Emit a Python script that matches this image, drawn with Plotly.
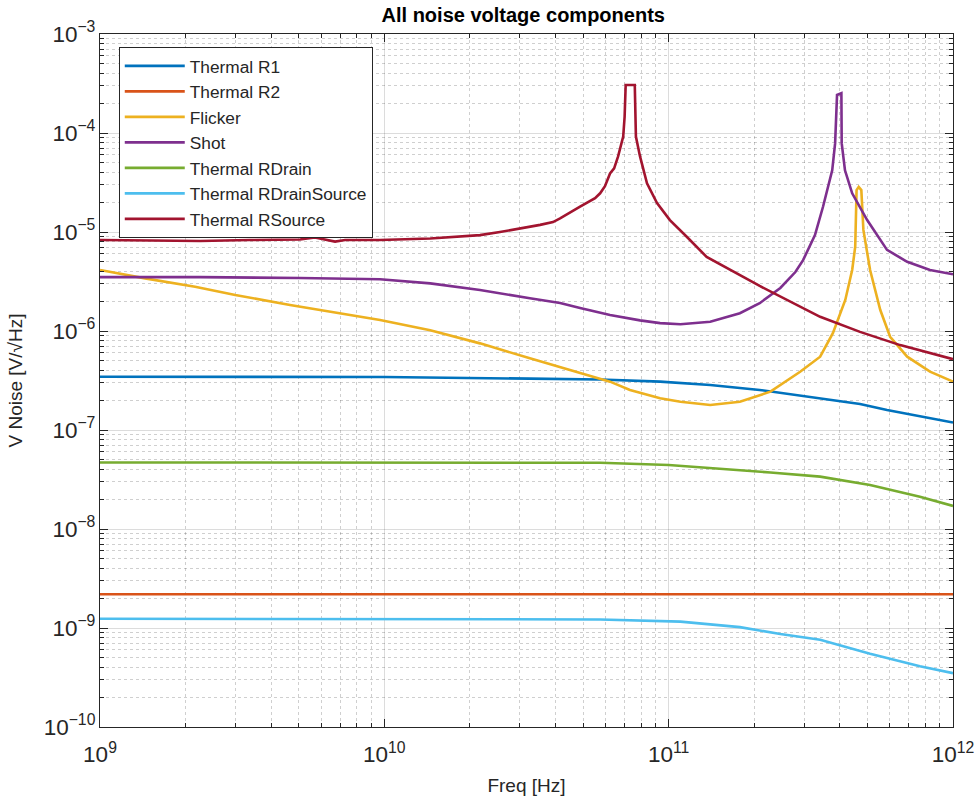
import plotly.graph_objects as go

# ---------------- data ----------------
f_flat = [1e9, 1e12]
r2_vals = [2.19e-9, 2.19e-9]

r1_freq = [1e9, 1e10, 3.25e10, 5.74e10, 9.33e10, 1.40e11, 2.09e11, 3.14e11, 4.71e11, 5.86e11, 1e12]
r1_vals = [3.45e-7, 3.43e-7, 3.30e-7, 3.24e-7, 3.08e-7, 2.85e-7, 2.54e-7, 2.17e-7, 1.83e-7, 1.59e-7, 1.19e-7]

flicker_freq = [1e9, 1.44e9, 2.16e9, 2.99e9, 4.66e9, 9.66e9, 1.45e10, 2.17e10, 3.25e10, 4.15e10,
                4.88e10, 6.22e10, 7.31e10, 9.33e10, 1.10e11, 1.40e11, 1.78e11, 2.28e11, 2.90e11,
                3.41e11, 3.78e11, 4.18e11, 4.42e11, 4.53e11, 4.58e11, 4.66e11, 4.76e11, 4.84e11,
                5.11e11, 5.55e11, 6.01e11, 6.90e11, 8.30e11, 1e12]
flicker_vals = [4.13e-6, 3.4e-6, 2.8e-6, 2.31e-6, 1.83e-6, 1.29e-6, 1.02e-6, 7.5e-7, 5.3e-7, 4.3e-7,
                3.74e-7, 3.08e-7, 2.54e-7, 2.09e-7, 1.93e-7, 1.79e-7, 1.93e-7, 2.44e-7, 3.88e-7,
                5.5e-7, 9.5e-7, 2.06e-6, 4.13e-6, 7.1e-6, 2.65e-5, 2.85e-5, 2.65e-5, 1.05e-5,
                4.13e-6, 1.63e-6, 8.75e-7, 5.5e-7, 3.88e-7, 3.08e-7]

shot_freq = [1e9, 2.25e9, 5.05e9, 9.66e9, 1.45e10, 2.17e10, 3.25e10, 4.15e10, 4.88e10, 6.22e10,
             7.93e10, 9.33e10, 1.10e11, 1.40e11, 1.78e11, 2.09e11, 2.47e11, 2.79e11, 2.97e11,
             3.27e11, 3.49e11, 3.76e11, 3.85e11, 3.91e11, 4.05e11, 4.06e11, 4.17e11, 4.42e11,
             4.99e11, 5.86e11, 6.90e11, 8.30e11, 1e12]
shot_vals = [3.5e-6, 3.5e-6, 3.43e-6, 3.33e-6, 3.03e-6, 2.6e-6, 2.14e-6, 1.92e-6, 1.71e-6, 1.45e-6,
             1.28e-6, 1.20e-6, 1.17e-6, 1.24e-6, 1.51e-6, 1.91e-6, 2.72e-6, 3.94e-6, 5.2e-6,
             9.3e-6, 1.8e-5, 4.2e-5, 7.9e-5, 2.42e-4, 2.52e-4, 7.9e-5, 4.2e-5, 2.46e-5,
             1.32e-5, 6.6e-6, 5.0e-6, 4.13e-6, 3.74e-6]

rdrain_freq = [1e9, 5.74e10, 1e11, 1.52e11, 2.28e11, 3.41e11, 5.11e11, 7.65e11, 1e12]
rdrain_vals = [4.7e-8, 4.67e-8, 4.43e-8, 4.08e-8, 3.72e-8, 3.38e-8, 2.78e-8, 2.12e-8, 1.71e-8]

rds_freq = [1e9, 5.74e10, 1.10e11, 1.78e11, 2.47e11, 3.41e11, 5.11e11, 7.65e11, 1e12]
rds_vals = [1.24e-9, 1.22e-9, 1.16e-9, 1.02e-9, 8.7e-10, 7.6e-10, 5.5e-10, 4.1e-10, 3.5e-10]

rsource_freq = [1e9, 1.5e9, 2.25e9, 3.37e9, 5.05e9, 5.7e9, 6.18e9, 6.71e9, 7.28e9, 9.66e9,
                1.45e10, 1.77e10, 2.17e10, 2.55e10, 3.0e10, 3.53e10, 3.92e10, 4.15e10, 4.88e10,
                5.51e10, 5.74e10, 5.97e10, 6.22e10, 6.43e10, 6.64e10, 6.92e10, 7.0e10, 7.06e10,
                7.6e10, 7.67e10, 7.93e10, 8.39e10, 9.1e10, 1.01e11, 1.16e11, 1.36e11, 2.09e11,
                3.41e11, 4.71e11, 6.52e11, 1e12]
rsource_vals = [8.3e-6, 8.2e-6, 8.1e-6, 8.3e-6, 8.4e-6, 8.8e-6, 8.4e-6, 8.0e-6, 8.3e-6, 8.3e-6,
                8.6e-6, 8.9e-6, 9.3e-6, 1.0e-5, 1.08e-5, 1.18e-5, 1.26e-5, 1.37e-5, 1.80e-5,
                2.2e-5, 2.46e-5, 2.9e-5, 3.9e-5, 4.4e-5, 5.8e-5, 9.2e-5, 1.46e-4, 3.05e-4,
                3.05e-4, 9.2e-5, 5.8e-5, 3.1e-5, 1.96e-5, 1.32e-5, 8.9e-6, 5.6e-6, 2.85e-6,
                1.39e-6, 9.8e-7, 7.2e-7, 5.2e-7]

series = [
    ("Thermal R1", r1_freq, r1_vals, "#0072BD"),
    ("Thermal R2", f_flat, r2_vals, "#D95319"),
    ("Flicker", flicker_freq, flicker_vals, "#EDB120"),
    ("Shot", shot_freq, shot_vals, "#7E2F8E"),
    ("Thermal RDrain", rdrain_freq, rdrain_vals, "#77AC30"),
    ("Thermal RDrainSource", rds_freq, rds_vals, "#4DBEEE"),
    ("Thermal RSource", rsource_freq, rsource_vals, "#A2142F"),
]

FONT = "Liberation Sans, Arial, Helvetica, sans-serif"
AX = "#262626"

fig = go.Figure()
for name, fx, fy, col in series:
    fig.add_trace(go.Scatter(x=fx, y=fy, mode="lines", name=name,
                             line=dict(color=col, width=2.6)))

axis_common = dict(
    type="log", dtick=1, exponentformat="power", showexponent="all",
    showline=True, linecolor=AX, linewidth=1, mirror="allticks",
    ticks="inside", ticklen=8, tickcolor=AX, tickwidth=1,
    showgrid=True, gridcolor="rgba(38,38,38,0.16)", gridwidth=1,
    zeroline=False, automargin=False,
    tickfont=dict(family=FONT, size=18, color=AX),
    minor=dict(ticks="inside", ticklen=4, tickcolor=AX, showgrid=True,
               gridcolor="rgba(38,38,38,0.22)", griddash="dot", gridwidth=1),
)

fig.update_xaxes(range=[9, 12], **axis_common, ticklabelstandoff=8,
                 title=dict(text="Freq [Hz]", font=dict(family=FONT, size=19, color=AX), standoff=12))
fig.update_yaxes(range=[-10, -3], **axis_common,
                 title=dict(text="V Noise [V/√Hz]", font=dict(family=FONT, size=19, color=AX), standoff=16))

fig.update_layout(
    width=978, height=803,
    margin=dict(l=100, r=25, t=34, b=76),
    paper_bgcolor="white", plot_bgcolor="white",
    title=dict(text="<b>All noise voltage components</b>", x=0.535, xanchor="center",
               y=0.981, yanchor="middle", font=dict(family=FONT, size=20, color="black")),
    legend=dict(x=0.022, y=0.981, xanchor="left", yanchor="top",
                bgcolor="white", bordercolor=AX, borderwidth=1,
                font=dict(family=FONT, size=17.3, color=AX),
                itemwidth=60),
    showlegend=True,
)

# remove the default 8 px page margin so the figure fills the window exactly
fig.write_html("out.html", config={"displayModeBar": False},
               post_script="document.body.style.margin='0';")
